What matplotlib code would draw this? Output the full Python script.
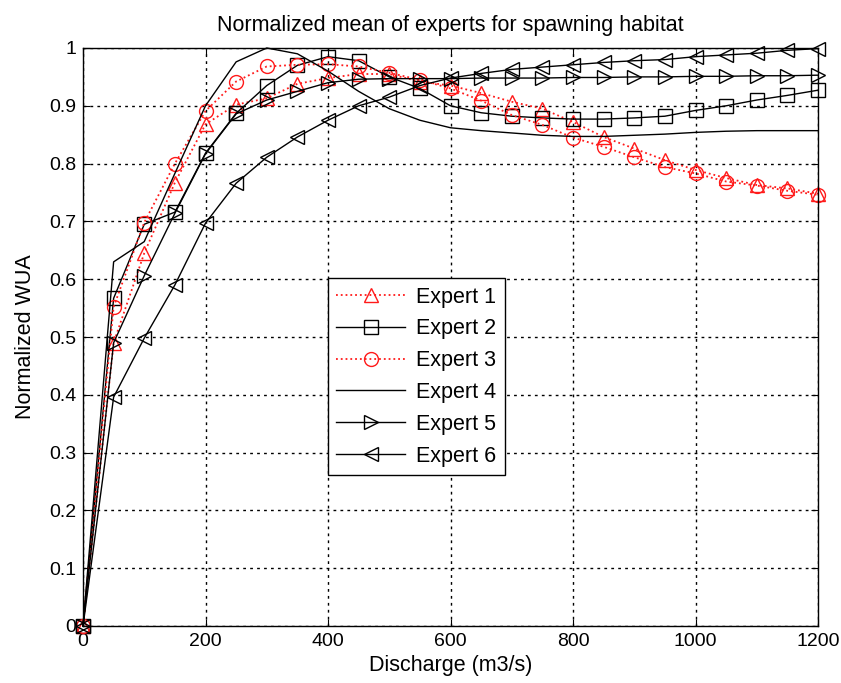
import matplotlib
matplotlib.use("Agg")
import matplotlib.pyplot as plt

plt.rcParams['font.family'] = ['Liberation Sans', 'DejaVu Sans']

discharge = list(range(0, 1201, 50))

expert1 = [0, 0.49, 0.645, 0.767, 0.868, 0.902, 0.913, 0.938, 0.948, 0.955, 0.955,
           0.942, 0.935, 0.922, 0.907, 0.895, 0.872, 0.846, 0.826, 0.806, 0.789,
           0.775, 0.763, 0.757, 0.748]
expert2 = [0, 0.567, 0.695, 0.716, 0.818, 0.887, 0.935, 0.97, 0.985, 0.978, 0.95,
           0.93, 0.90, 0.888, 0.882, 0.879, 0.877, 0.877, 0.879, 0.882, 0.892,
           0.90, 0.91, 0.918, 0.927]
expert3 = [0, 0.552, 0.698, 0.80, 0.891, 0.942, 0.968, 0.971, 0.972, 0.968, 0.957,
           0.945, 0.93, 0.909, 0.884, 0.867, 0.845, 0.829, 0.811, 0.794, 0.783,
           0.769, 0.762, 0.753, 0.746]
expert4 = [0, 0.63, 0.665, 0.783, 0.90, 0.976, 1.0, 0.99, 0.96, 0.925, 0.895,
           0.875, 0.862, 0.857, 0.853, 0.849, 0.847, 0.847, 0.849, 0.851, 0.854,
           0.856, 0.857, 0.857, 0.857]
expert5 = [0, 0.49, 0.606, 0.714, 0.817, 0.886, 0.91, 0.925, 0.94, 0.946, 0.947,
           0.947, 0.947, 0.948, 0.948, 0.948, 0.949, 0.949, 0.95, 0.95, 0.951,
           0.951, 0.952, 0.952, 0.953]
expert6 = [0, 0.396, 0.498, 0.59, 0.697, 0.766, 0.811, 0.846, 0.875, 0.90, 0.915,
           0.935, 0.948, 0.956, 0.963, 0.967, 0.971, 0.975, 0.978, 0.98, 0.985,
           0.988, 0.991, 0.996, 0.999]

fig = plt.figure(figsize=(8.41, 6.83), dpi=100)
ax = fig.add_axes([83 / 841, 1 - 626 / 683, 735 / 841, 578 / 683])

red = '#ff1a1a'
mk = dict(markersize=10, markerfacecolor='none', markeredgewidth=1.0, clip_on=False)
ax.plot(discharge, expert1, ':', color=red, marker='^', lw=1.3, label='Expert 1', **mk)
ax.plot(discharge, expert2, '-', color='black', marker='s', lw=1.0, label='Expert 2', **mk)
ax.plot(discharge, expert3, ':', color=red, marker='o', lw=1.3, label='Expert 3', **mk)
ax.plot(discharge, expert4, '-', color='black', lw=1.0, label='Expert 4', clip_on=False)
ax.plot(discharge, expert5, '-', color='black', marker='>', lw=1.0, label='Expert 5', **mk)
ax.plot(discharge, expert6, '-', color='black', marker='<', lw=1.0, label='Expert 6', **mk)

ax.set_xlim(0, 1200)
ax.set_ylim(0, 1)
ax.set_xticks(range(0, 1201, 200))
ax.set_yticks([i / 10 for i in range(11)])
ax.set_yticklabels(['0', '0.1', '0.2', '0.3', '0.4', '0.5', '0.6', '0.7', '0.8', '0.9', '1'])
ax.tick_params(direction='in', labelsize=14, length=5, top=True, right=True, pad=5)
ax.grid(True, color='black', linestyle=(0, (2, 3)), linewidth=1.0)
for s in ax.spines.values():
    s.set_linewidth(1.0)

ax.set_title('Normalized mean of experts for spawning habitat', fontsize=15.5, pad=12)
ax.set_xlabel('Discharge (m3/s)', fontsize=15.5, labelpad=4)
ax.set_ylabel('Normalized WUA', fontsize=15.5, labelpad=9)

leg = ax.legend(loc='lower left', bbox_to_anchor=(0.333, 0.261), fontsize=15.5,
                fancybox=False, edgecolor='black', framealpha=1, handlelength=3.2,
                labelspacing=0.5, borderpad=0.4, handletextpad=0.5, borderaxespad=0)
leg.get_frame().set_linewidth(1.0)

fig.savefig('out.png', dpi=100)
